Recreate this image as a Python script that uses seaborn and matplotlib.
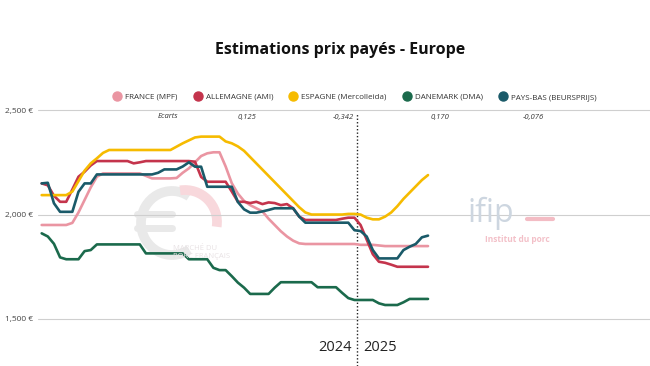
import numpy as np
import pandas as pd
import matplotlib.pyplot as plt
import seaborn as sns
from matplotlib.lines import Line2D
from matplotlib.patches import Arc

# prix hebdomadaires estimes (EUR / t), semaines 2024 puis debut 2025
france = [1950, 1950, 1950, 1950, 1950, 1960, 2010, 2070, 2130, 2181,
          2197, 2197, 2197, 2197, 2197, 2197, 2197, 2185, 2173, 2173,
          2173, 2173, 2175, 2200, 2221, 2250, 2280, 2293, 2298, 2298,
          2230, 2150, 2100, 2065, 2045, 2030, 2015, 1980, 1950, 1920,
          1895, 1875, 1862, 1859, 1859, 1859, 1859, 1859, 1859, 1859,
          1859, 1859, 1855, 1855, 1855, 1852, 1849, 1849, 1849, 1849,
          1849, 1849, 1849, 1849]
allemagne = [2149, 2140, 2090, 2061, 2061, 2120, 2181, 2205, 2235, 2256,
             2256, 2256, 2256, 2256, 2256, 2245, 2250, 2256, 2256, 2256,
             2256, 2256, 2256, 2256, 2256, 2253, 2180, 2157, 2157, 2157,
             2157, 2110, 2061, 2061, 2055, 2061, 2050, 2058, 2055, 2045,
             2050, 2030, 1990, 1974, 1974, 1974, 1974, 1974, 1974, 1980,
             1985, 1985, 1950, 1880, 1810, 1774, 1769, 1760, 1750, 1750,
             1750, 1750, 1750, 1750]
espagne = [2093, 2093, 2093, 2093, 2093, 2110, 2160, 2210, 2245, 2269,
           2295, 2309, 2309, 2309, 2309, 2309, 2309, 2309, 2309, 2309,
           2309, 2309, 2325, 2341, 2355, 2369, 2373, 2373, 2373, 2373,
           2350, 2341, 2326, 2305, 2275, 2245, 2215, 2185, 2155, 2125,
           2095, 2065, 2035, 2010, 2000, 2000, 2000, 2000, 2000, 2000,
           2003, 2003, 2000, 1985, 1977, 1977, 1990, 2010, 2040, 2075,
           2105, 2135, 2165, 2189]
danemark = [1910, 1895, 1860, 1795, 1786, 1786, 1786, 1825, 1830, 1857,
            1857, 1857, 1857, 1857, 1857, 1857, 1857, 1814, 1814, 1814,
            1814, 1814, 1814, 1814, 1786, 1786, 1786, 1786, 1745, 1734,
            1734, 1705, 1674, 1650, 1620, 1620, 1620, 1620, 1650, 1676,
            1676, 1676, 1676, 1676, 1676, 1652, 1652, 1652, 1652, 1625,
            1600, 1591, 1591, 1591, 1591, 1575, 1567, 1567, 1567, 1580,
            1596, 1596, 1596, 1596]
pays_bas = [2149, 2152, 2054, 2013, 2013, 2013, 2109, 2149, 2149, 2192,
            2192, 2192, 2192, 2192, 2192, 2192, 2192, 2192, 2192, 2200,
            2216, 2216, 2216, 2230, 2250, 2229, 2229, 2133, 2133, 2133,
            2133, 2133, 2060, 2025, 2009, 2009, 2015, 2022, 2030, 2030,
            2030, 2030, 1990, 1961, 1961, 1961, 1961, 1961, 1961, 1961,
            1961, 1925, 1921, 1895, 1830, 1790, 1790, 1790, 1790, 1830,
            1846, 1859, 1891, 1899]

pays = ["FRANCE (MPF)", "ALLEMAGNE (AMI)", "ESPAGNE (Mercolleida)",
        "DANEMARK (DMA)", "PAYS-BAS (BEURSPRIJS)"]
couleurs = ["#ea95a2", "#c4344c", "#f6bb00", "#1b6a4c", "#1a5a69"]
ecarts = ["0,125", "-0,342", "0,170", "-0,076"]
annees = ["2024", "2025"]
semaines_2024 = 52

series = [france, allemagne, espagne, danemark, pays_bas]
df = pd.concat([pd.DataFrame({"semaine": np.arange(len(s)), "prix": s, "pays": p})
                for s, p in zip(series, pays)])

sns.set_theme(style="white")
plt.rcParams['font.family'] = ['Open Sans', 'DejaVu Sans']

W, H = 650, 366
fig = plt.figure(figsize=(6.5, 3.66), dpi=100)
ax = fig.add_axes([38 / W, 0, 612 / W, 258 / H])

# filigranes (logo marche du porc + ifip)
fig.add_artist(Arc((172 / W, 1 - 223 / H), 62 / W, 64 / H, theta1=70, theta2=290,
                   color="#e9e9e9", lw=7, zorder=0))
for yb in [214, 228]:
    fig.add_artist(Line2D([137 / W, 172 / W], [1 - yb / H] * 2, color="#e9e9e9", lw=5, zorder=0))
fig.add_artist(Arc((185 / W, 1 - 222 / H), 64 / W, 64 / H, theta1=-15, theta2=95,
                   color="#f8d8dc", lw=7, zorder=0))
fig.text(173 / W, 1 - 248 / H, "MARCHÉ DU", fontsize=5.5, color="#e8e2e4",
         ha="left", va="center", zorder=0)
fig.text(173 / W, 1 - 257 / H, "PORC FRANÇAIS", fontsize=5.5, color="#e8e2e4",
         ha="left", va="center", zorder=0)
fig.text(491 / W, 1 - 213 / H, "ifip", fontsize=23, color="#cdd6e0",
         ha="center", va="center", zorder=0)
fig.add_artist(Line2D([527 / W, 553 / W], [1 - 219 / H] * 2, color="#f3bcc4",
                      lw=3, zorder=0))
fig.text(517 / W, 1 - 239 / H, "Institut du porc", fontsize=6, color="#f3c0c8",
         ha="center", va="center", fontweight="bold", zorder=0)

sns.lineplot(data=df, x="semaine", y="prix", hue="pays", hue_order=pays,
             palette=couleurs, linewidth=1.9, legend=False, ax=ax, zorder=3)

ax.set_xlim(-0.6, 99.2)
ax.set_ylim(1275, 2510)
ax.set_yticks([1500, 2000, 2500])
ax.set_yticklabels([f"{v:,} €" for v in [1500, 2000, 2500]], fontsize=6, color="#444444")
ax.tick_params(axis="y", length=0, pad=3.5)
ax.set_xticks([])
ax.grid(axis="y", color="#cfcfcf", lw=0.8)
ax.set_xlabel("")
ax.set_ylabel("")
sns.despine(ax=ax, left=True, bottom=True)
ax.patch.set_alpha(0)

# separation 2024 / 2025
coupure = semaines_2024 - 0.5
ax.axvline(coupure, ymin=0, ymax=0.98, color="#222222", ls=(0, (1, 1.5)), lw=1)
ax.text(coupure - 0.9, 1362, annees[0], ha="right", va="center", fontsize=10.5, color="#222222")
ax.text(coupure + 0.9, 1362, annees[1], ha="left", va="center", fontsize=10.5, color="#222222")

# ligne des ecarts
y_ec = 1 - 117 / H
fig.text(168 / W, y_ec, "Ecarts", fontsize=5.5, style="italic", ha="center", va="center", color="#333333")
for xp, e in zip([247, 343, 440, 533], ecarts):
    fig.text(xp / W, y_ec, e, fontsize=5.5, style="italic", ha="center", va="center", color="#333333")

fig.text(340 / W, 1 - 50 / H, "Estimations prix payés - Europe", fontsize=11.5,
         fontweight="bold", ha="center", va="center", color="#111111")

handles = [Line2D([], [], marker="o", ls="", color=c, markersize=6.5) for c in couleurs]
fig.legend(handles, pays, loc="center", bbox_to_anchor=(355 / W, 1 - 97 / H), ncol=5,
           frameon=False, fontsize=5.8, handletextpad=0.5, columnspacing=2.0,
           handlelength=1.0, labelcolor="#333333", borderpad=0)

plt.savefig("out.png", dpi=100)
